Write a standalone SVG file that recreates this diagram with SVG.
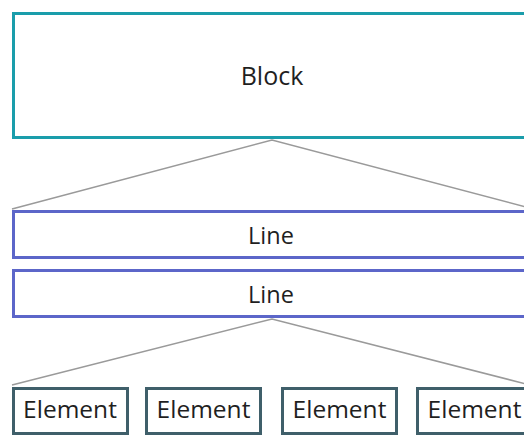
<svg xmlns="http://www.w3.org/2000/svg" width="524" height="435" viewBox="0 0 524 435">
  <style>
    text { font-family: "Open Sans", Roboto, "Liberation Sans", sans-serif; fill: #1f1f1f; text-anchor: middle; }
    .block { fill: #ffffff; stroke: #1a9dab; stroke-width: 3; }
    .line { fill: #ffffff; stroke: #5c66c9; stroke-width: 3; }
    .elem { fill: #ffffff; stroke: #3f5f6a; stroke-width: 3; }
    .conn { fill: none; stroke: #9a9a9a; stroke-width: 1.5; }
  </style>
  <g id="connectors">
    <polyline class="conn" points="12,209 272,140 530,208"/>
    <polyline class="conn" points="12,385 272,319 530,385"/>
  </g>
  <g id="block">
    <rect class="block" x="13.5" y="13.5" width="560" height="124"/>
    <text x="272" y="85" font-size="25">Block</text>
  </g>
  <g id="line-1">
    <rect class="line" x="13.5" y="211.5" width="560" height="46"/>
    <text x="271" y="244" font-size="23.5">Line</text>
  </g>
  <g id="line-2">
    <rect class="line" x="13.5" y="270.5" width="560" height="46"/>
    <text x="271" y="303" font-size="23.5">Line</text>
  </g>
  <g id="element-1">
    <rect class="elem" x="13.5" y="388.5" width="114" height="45"/>
    <text x="70" y="418" font-size="24.5">Element</text>
  </g>
  <g id="element-2">
    <rect class="elem" x="146.5" y="388.5" width="114" height="45"/>
    <text x="203.5" y="418" font-size="24.5">Element</text>
  </g>
  <g id="element-3">
    <rect class="elem" x="282.5" y="388.5" width="114" height="45"/>
    <text x="339.5" y="418" font-size="24.5">Element</text>
  </g>
  <g id="element-4">
    <rect class="elem" x="417.5" y="388.5" width="114" height="45"/>
    <text x="474.5" y="418" font-size="24.5">Element</text>
  </g>
</svg>
